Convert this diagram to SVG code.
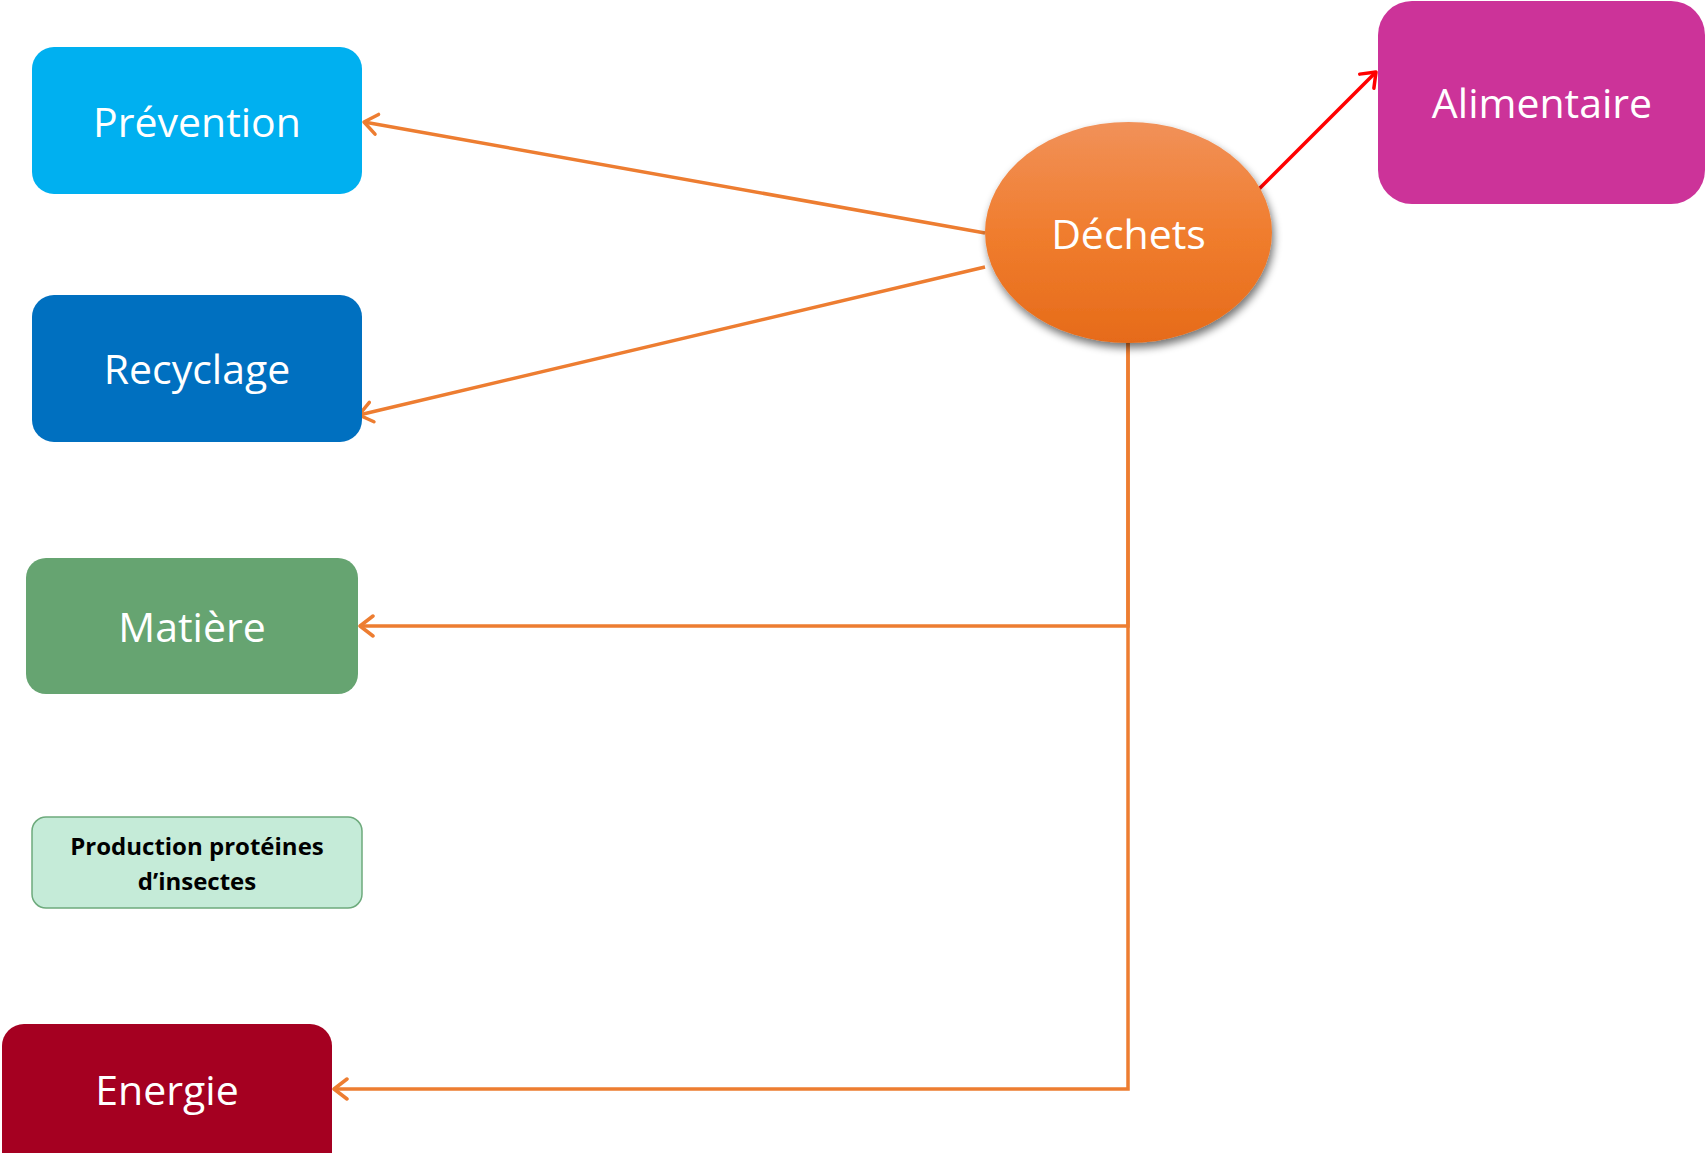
<svg xmlns="http://www.w3.org/2000/svg" width="1706" height="1153" viewBox="0 0 1706 1153">
<style>
.lbl{font-family:"Open Sans","Noto Sans","Liberation Sans",sans-serif;font-size:41px;fill:#fff;text-anchor:middle}
.small{font-family:"Open Sans","Noto Sans","Liberation Sans",sans-serif;font-size:24px;font-weight:bold;fill:#000;text-anchor:middle}
.con{fill:none;stroke:#ED7D31;stroke-width:3.5}
</style>
<defs>
<linearGradient id="og" x1="0" y1="0" x2="0" y2="1">
<stop offset="0" stop-color="#F19159"/>
<stop offset="0.5" stop-color="#F07D2E"/>
<stop offset="1" stop-color="#E66B19"/>
</linearGradient>
<filter id="sh" x="-20%" y="-20%" width="140%" height="150%">
<feGaussianBlur in="SourceAlpha" stdDeviation="4"/>
<feOffset dx="2" dy="5" result="b"/>
<feComponentTransfer><feFuncA type="linear" slope="0.55"/></feComponentTransfer>
<feMerge><feMergeNode/><feMergeNode in="SourceGraphic"/></feMerge>
</filter>
<marker id="ao" markerUnits="userSpaceOnUse" markerWidth="30" markerHeight="30" viewBox="-15 -15 30 30" refX="0" refY="0" orient="auto">
<path d="M-13,-10 L0,0 L-13,10" fill="none" stroke="#ED7D31" stroke-width="3.5" stroke-linecap="round" stroke-linejoin="round"/>
</marker>
<marker id="ar" markerUnits="userSpaceOnUse" markerWidth="30" markerHeight="30" viewBox="-15 -15 30 30" refX="0" refY="0" orient="auto">
<path d="M-13,-10 L0,0 L-13,10" fill="none" stroke="#FF0000" stroke-width="3.5" stroke-linecap="round" stroke-linejoin="round"/>
</marker>
</defs>
<rect width="1706" height="1153" fill="#fff"/>
<g id="connectors">
<line class="con" x1="985" y1="233" x2="364" y2="122" marker-end="url(#ao)"/>
<line class="con" x1="985" y1="267" x2="359" y2="415" marker-end="url(#ao)"/>
<polyline class="con" points="1128,343 1128,626 360,626" marker-end="url(#ao)"/>
<polyline class="con" points="1128,343 1128,1089 334,1089" marker-end="url(#ao)"/>
<line x1="1255" y1="193" x2="1376" y2="72" fill="none" stroke="#FF0000" stroke-width="3.5" marker-end="url(#ar)"/>
</g>
<g id="prevention">
<rect x="32" y="47" width="330" height="147" rx="22" fill="#00B0F0"/>
<text class="lbl" x="197" y="137">Prévention</text>
</g>
<g id="recyclage">
<rect x="32" y="295" width="330" height="147" rx="22" fill="#0070C0"/>
<text class="lbl" x="197" y="384">Recyclage</text>
</g>
<g id="matiere">
<rect x="26" y="558" width="332" height="136" rx="20" fill="#66A471"/>
<text class="lbl" x="192" y="642">Matière</text>
</g>
<g id="production">
<rect x="32" y="817" width="330" height="91" rx="14" fill="#C5EBD8" stroke="#6DAA7C" stroke-width="1.5"/>
<text class="small" x="197" y="855">Production protéines</text>
<text class="small" x="197" y="890">d’insectes</text>
</g>
<g id="energie">
<rect x="2" y="1024" width="330" height="160" rx="22" fill="#A50021"/>
<text class="lbl" x="167" y="1105">Energie</text>
</g>
<g id="alimentaire">
<rect x="1378" y="1" width="327" height="203" rx="34" fill="#CC3399"/>
<text class="lbl" x="1542" y="118">Alimentaire</text>
</g>
<g id="dechets">
<ellipse cx="1128.5" cy="232.5" rx="143.5" ry="110.5" fill="url(#og)" filter="url(#sh)"/>
<text class="lbl" x="1128.5" y="249">Déchets</text>
</g>
</svg>
